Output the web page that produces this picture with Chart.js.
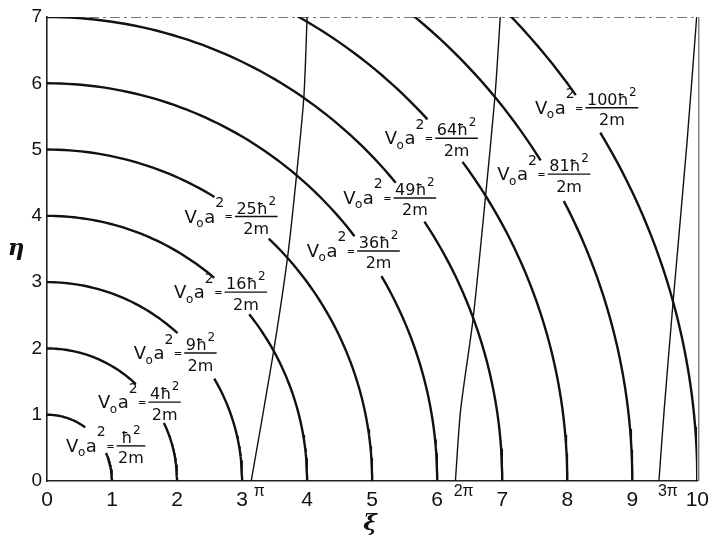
<!DOCTYPE html>
<html><head><meta charset="utf-8">
<script src="https://cdn.jsdelivr.net/npm/chart.js@4"></script>
<style>html,body{margin:0;padding:0;background:#fff}#wrap{width:716px;height:540px}</style>
</head><body><div id="wrap"><canvas id="c" width="716" height="540"></canvas></div>
<script>
// ---- data ----
const radii = [1, 2, 3, 4, 5, 6, 7, 8, 9, 10];               // circles xi^2+eta^2 = r^2
const arcBreakStart = [54, 47, 48, 50, 59, 38, 40, 43, 32.5, 35.6]; // angle (deg) where upper arc stops
const arcBreakEnd   = [25, 26, 31, 39, 47, 31, 34, 37, 28, 31.7];   // angle (deg) where lower arc resumes
const curve1X = [3.14, 3.47, 3.70, 3.84, 3.95, 4.00];
const curve1Y = [0, 1.87, 3.38, 4.64, 5.80, 7.0];
const curve2X = [6.28, 6.36, 6.55, 6.74, 6.89, 6.97];
const curve2Y = [0, 1.07, 2.43, 4.26, 5.82, 7.0];
const curve3X = [9.41, 9.49, 9.63, 9.84, 9.99];
const curve3Y = [0, 1.07, 2.73, 5.09, 7.0];
const xTickValues = [0, 1, 2, 3, 4, 5, 6, 7, 8, 9, 10];
const yTickValues = [0, 1, 2, 3, 4, 5, 6, 7];
const piLabels = ['π', '2π', '3π'];
const piMultiples = [1, 2, 3];
const labelNumerators = ['', '4', '9', '16', '25', '36', '49', '64', '81', '100'];
// label anchor (left end of fraction bar) in data units
const labelAnchorX = [1.07, 1.56, 2.11, 2.73, 2.89, 4.77, 5.33, 5.97, 7.70, 8.28];
const labelAnchorY = [0.53, 1.19, 1.93, 2.85, 3.99, 3.47, 4.27, 5.17, 4.63, 5.63];

// ---- build datasets ----
function arcPoints(r, fromDeg, toDeg) {
  const pts = [];
  const step = fromDeg > toDeg ? -1 : 1;
  for (let a = fromDeg; step < 0 ? a > toDeg : a < toDeg; a += step) {
    pts.push({x: r * Math.cos(a * Math.PI / 180), y: r * Math.sin(a * Math.PI / 180)});
  }
  pts.push({x: r * Math.cos(toDeg * Math.PI / 180), y: r * Math.sin(toDeg * Math.PI / 180)});
  return pts;
}
const datasets = [];
radii.forEach((r, i) => {
  datasets.push({data: arcPoints(r, 90, arcBreakStart[i]), borderWidth: 2.4, tension: 0});
  datasets.push({data: arcPoints(r, arcBreakEnd[i], 0), borderWidth: 2.4, tension: 0});
});
[[curve1X, curve1Y], [curve2X, curve2Y], [curve3X, curve3Y]].forEach(([xs, ys]) => {
  datasets.push({data: xs.map((x, k) => ({x, y: ys[k]})), borderWidth: 1.4, tension: 0.25});
});
datasets.forEach(d => { d.showLine = true; d.pointRadius = 0; d.borderColor = '#111'; d.fill = false; });

const FONT = 'Liberation Sans';
const LFONT = 'DejaVu Sans';

function drawLabel(ctx, x0, y0, num) {
  ctx.fillStyle = '#111';
  ctx.textBaseline = 'alphabetic';
  ctx.textAlign = 'left';
  const parts = [
    {t: 'V', s: 18, dy: 6, gap: -0.5},
    {t: 'o', s: 12, dy: 10.5, gap: 0.5},
    {t: 'a', s: 18, dy: 6, gap: 0},
    {t: '2', s: 14, dy: -9.5, gap: 0.5},
    {t: '=', s: 10, dy: 3.8, gap: 0}
  ];
  let total = 0;
  parts.forEach(p => { ctx.font = p.s + 'px "' + LFONT + '"'; p.w = ctx.measureText(p.t).width; total += p.w + p.gap; });
  let x = x0 - 2 - total;
  parts.forEach(p => { ctx.font = p.s + 'px "' + LFONT + '"'; ctx.fillText(p.t, x, y0 + p.dy); x += p.w + p.gap; });
  // fraction
  ctx.font = '16px "' + LFONT + '"';
  const numMain = num + 'ħ';
  const wMain = ctx.measureText(numMain).width;
  ctx.font = '12px "' + LFONT + '"';
  const wSup = ctx.measureText('2').width;
  const wNum = wMain + wSup + 0.5;
  ctx.font = '16px "' + LFONT + '"';
  const wDen = ctx.measureText('2m').width;
  const barW = Math.max(wNum, wDen) + 3;
  ctx.strokeStyle = '#111';
  ctx.lineWidth = 1.4;
  ctx.beginPath(); ctx.moveTo(x0, y0); ctx.lineTo(x0 + barW, y0); ctx.stroke();
  const nx = x0 + (barW - wNum) / 2;
  ctx.fillText(numMain, nx, y0 - 3);
  ctx.font = '12px "' + LFONT + '"';
  ctx.fillText('2', nx + wMain + 0.5, y0 - 12);
  ctx.font = '16px "' + LFONT + '"';
  ctx.fillText('2m', x0 + (barW - wDen) / 2, y0 + 17.5);
}

const decor = {
  id: 'decor',
  beforeDatasetsDraw(chart) {
    const {ctx, chartArea: a} = chart;
    ctx.save();
    ctx.strokeStyle = '#777';
    ctx.lineWidth = 1;
    ctx.setLineDash([10, 4, 3, 4]);
    ctx.beginPath(); ctx.moveTo(a.left, a.top + 0.5); ctx.lineTo(a.right, a.top + 0.5); ctx.stroke();
    ctx.setLineDash([]);
    ctx.strokeStyle = '#444';
    ctx.beginPath(); ctx.moveTo(a.right + 1.5, a.top); ctx.lineTo(a.right + 1.5, a.bottom); ctx.stroke();
    ctx.restore();
  },
  afterDraw(chart) {
    const {ctx, chartArea: a, scales: {x, y}} = chart;
    ctx.save();
    labelNumerators.forEach((n, i) => {
      drawLabel(ctx, x.getPixelForValue(labelAnchorX[i]), y.getPixelForValue(labelAnchorY[i]), n);
    });
    // pi labels
    ctx.fillStyle = '#111';
    ctx.font = '16px "' + FONT + '"';
    ctx.textAlign = 'center';
    ctx.textBaseline = 'alphabetic';
    piLabels.forEach((t, i) => {
      ctx.fillText(t, x.getPixelForValue(piMultiples[i] * Math.PI) + 8, a.bottom + 15);
    });
    // axis titles
    ctx.font = 'italic bold 23px "DejaVu Serif"';
    ctx.textBaseline = 'middle';
    ctx.fillText('ξ', (a.left + a.right) / 2 - 2, a.bottom + 43);
    ctx.fillText('η', 16, (a.top + a.bottom) / 2);
    ctx.restore();
  }
};

new Chart(document.getElementById('c'), {
  type: 'scatter',
  data: {datasets},
  plugins: [decor],
  options: {
    responsive: false,
    animation: false,
    events: [],
    layout: {padding: {top: 17, right: 8, left: 0, bottom: 0}},
    plugins: {legend: {display: false}, tooltip: {enabled: false}},
    scales: {
      x: {
        type: 'linear', min: 0, max: 10,
        afterBuildTicks: s => { s.ticks = xTickValues.map(v => ({value: v})); },
        afterFit: s => { s.height = 59; },
        ticks: {color: '#111', font: {family: FONT, size: 21}, padding: 7, maxRotation: 0, autoSkip: false},
        grid: {display: false, drawTicks: false},
        border: {display: true, color: '#222', width: 1.6}
      },
      y: {
        type: 'linear', min: 0, max: 7,
        afterBuildTicks: s => { s.ticks = yTickValues.map(v => ({value: v})); },
        afterFit: s => { s.width = 47; },
        ticks: {color: '#111', font: {family: FONT, size: 19}, padding: 5, autoSkip: false},
        grid: {display: false, drawTicks: false},
        border: {display: true, color: '#222', width: 1.6}
      }
    }
  }
});
</script></body></html>
